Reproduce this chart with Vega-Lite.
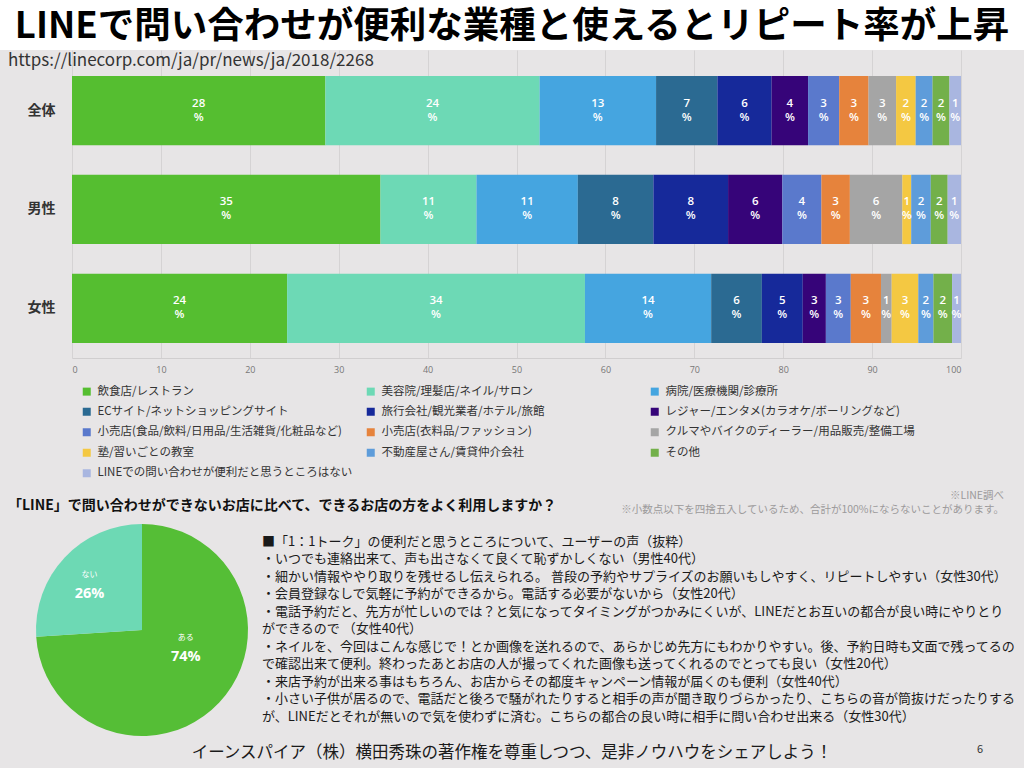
{
  "$schema": "https://vega.github.io/schema/vega-lite/v6.json",
  "padding": 0,
  "background": "#E7E5E6",
  "columns": 1,
  "spacing": 0,
  "resolve": {"scale": {"color": "independent"}, "legend": {"color": "independent"}},
  "config": {"view": {"stroke": null}, "font": "Noto Sans CJK JP", "concat": {"spacing": 0}},
  "concat": [
    {
      "width": 1024,
      "height": 50,
      "view": {"fill": "#FFFFFF"},
      "data": {"values": [{"t": "LINEで問い合わせが便利な業種と使えるとリピート率が上昇"}]},
      "mark": {"type": "text", "fontSize": 36.5, "fontWeight": "bold", "color": "#000000", "align": "center", "baseline": "middle", "dy": 2},
      "encoding": {"text": {"field": "t"}}
    },
    {
      "width": 961,
      "height": 308,
      "title": {"text": "https://linecorp.com/ja/pr/news/ja/2018/2268", "anchor": "start", "frame": "group", "orient": "top", "offset": -20, "dx": 8, "fontSize": 17, "fontWeight": "normal", "color": "#333333", "font": "Noto Sans CJK JP"},
      "data": {"values": [
        {"group": "全体", "cat": "飲食店/レストラン", "idx": 1, "value": 28.5, "pct": 28},
        {"group": "全体", "cat": "美容院/理髪店/ネイル/サロン", "idx": 2, "value": 24.1, "pct": 24},
        {"group": "全体", "cat": "病院/医療機関/診療所", "idx": 3, "value": 13.1, "pct": 13},
        {"group": "全体", "cat": "ECサイト/ネットショッピングサイト", "idx": 4, "value": 6.9, "pct": 7},
        {"group": "全体", "cat": "旅行会社/観光業者/ホテル/旅館", "idx": 5, "value": 6.1, "pct": 6},
        {"group": "全体", "cat": "レジャー/エンタメ(カラオケ/ボーリングなど)", "idx": 6, "value": 4.1, "pct": 4},
        {"group": "全体", "cat": "小売店(食品/飲料/日用品/生活雑貨/化粧品など)", "idx": 7, "value": 3.5, "pct": 3},
        {"group": "全体", "cat": "小売店(衣料品/ファッション)", "idx": 8, "value": 3.3, "pct": 3},
        {"group": "全体", "cat": "クルマやバイクのディーラー/用品販売/整備工場", "idx": 9, "value": 3.1, "pct": 3},
        {"group": "全体", "cat": "塾/習いごとの教室", "idx": 10, "value": 2.2, "pct": 2},
        {"group": "全体", "cat": "不動産屋さん/賃貸仲介会社", "idx": 11, "value": 1.9, "pct": 2},
        {"group": "全体", "cat": "その他", "idx": 12, "value": 1.9, "pct": 2},
        {"group": "全体", "cat": "LINEでの問い合わせが便利だと思うところはない", "idx": 13, "value": 1.3, "pct": 1},
        {"group": "男性", "cat": "飲食店/レストラン", "idx": 1, "value": 34.7, "pct": 35},
        {"group": "男性", "cat": "美容院/理髪店/ネイル/サロン", "idx": 2, "value": 10.8, "pct": 11},
        {"group": "男性", "cat": "病院/医療機関/診療所", "idx": 3, "value": 11.4, "pct": 11},
        {"group": "男性", "cat": "ECサイト/ネットショッピングサイト", "idx": 4, "value": 8.5, "pct": 8},
        {"group": "男性", "cat": "旅行会社/観光業者/ホテル/旅館", "idx": 5, "value": 8.4, "pct": 8},
        {"group": "男性", "cat": "レジャー/エンタメ(カラオケ/ボーリングなど)", "idx": 6, "value": 6.1, "pct": 6},
        {"group": "男性", "cat": "小売店(食品/飲料/日用品/生活雑貨/化粧品など)", "idx": 7, "value": 4.4, "pct": 4},
        {"group": "男性", "cat": "小売店(衣料品/ファッション)", "idx": 8, "value": 3.2, "pct": 3},
        {"group": "男性", "cat": "クルマやバイクのディーラー/用品販売/整備工場", "idx": 9, "value": 5.9, "pct": 6},
        {"group": "男性", "cat": "塾/習いごとの教室", "idx": 10, "value": 1.0, "pct": 1},
        {"group": "男性", "cat": "不動産屋さん/賃貸仲介会社", "idx": 11, "value": 2.2, "pct": 2},
        {"group": "男性", "cat": "その他", "idx": 12, "value": 1.9, "pct": 2},
        {"group": "男性", "cat": "LINEでの問い合わせが便利だと思うところはない", "idx": 13, "value": 1.5, "pct": 1},
        {"group": "女性", "cat": "飲食店/レストラン", "idx": 1, "value": 24.2, "pct": 24},
        {"group": "女性", "cat": "美容院/理髪店/ネイル/サロン", "idx": 2, "value": 33.5, "pct": 34},
        {"group": "女性", "cat": "病院/医療機関/診療所", "idx": 3, "value": 14.2, "pct": 14},
        {"group": "女性", "cat": "ECサイト/ネットショッピングサイト", "idx": 4, "value": 5.7, "pct": 6},
        {"group": "女性", "cat": "旅行会社/観光業者/ホテル/旅館", "idx": 5, "value": 4.6, "pct": 5},
        {"group": "女性", "cat": "レジャー/エンタメ(カラオケ/ボーリングなど)", "idx": 6, "value": 2.6, "pct": 3},
        {"group": "女性", "cat": "小売店(食品/飲料/日用品/生活雑貨/化粧品など)", "idx": 7, "value": 2.8, "pct": 3},
        {"group": "女性", "cat": "小売店(衣料品/ファッション)", "idx": 8, "value": 3.4, "pct": 3},
        {"group": "女性", "cat": "クルマやバイクのディーラー/用品販売/整備工場", "idx": 9, "value": 1.2, "pct": 1},
        {"group": "女性", "cat": "塾/習いごとの教室", "idx": 10, "value": 3.0, "pct": 3},
        {"group": "女性", "cat": "不動産屋さん/賃貸仲介会社", "idx": 11, "value": 1.7, "pct": 2},
        {"group": "女性", "cat": "その他", "idx": 12, "value": 2.1, "pct": 2},
        {"group": "女性", "cat": "LINEでの問い合わせが便利だと思うところはない", "idx": 13, "value": 1.0, "pct": 1}
      ]},
      "encoding": {
        "y": {"field": "group", "type": "nominal", "sort": ["全体", "男性", "女性"],
              "scale": {"paddingInner": 0.3, "paddingOuter": 0.207, "align": 0.634},
              "axis": {"title": null, "labelFontSize": 14, "labelFontWeight": "bold", "labelColor": "#333333", "ticks": false, "domain": false, "labelAlign": "left", "labelPadding": -27, "minExtent": 0, "maxExtent": 0}},
        "order": {"field": "idx", "type": "quantitative"}
      },
      "layer": [
        {
          "mark": {"type": "bar"},
          "encoding": {
            "x": {"field": "value", "type": "quantitative", "stack": "zero", "scale": {"domain": [0, 100], "nice": false, "range": [72, 961]},
                  "axis": {"title": null, "values": [0, 10, 20, 30, 40, 50, 60, 70, 80, 90, 100], "labelFontSize": 9, "labelColor": "#777777", "labelFont": "Open Sans", "gridColor": "#D5D3D4", "ticks": false, "domainColor": "#D0CECF", "labelPadding": 7}},
            "color": {"field": "cat", "type": "nominal",
                      "scale": {"domain": ["飲食店/レストラン", "美容院/理髪店/ネイル/サロン", "病院/医療機関/診療所", "ECサイト/ネットショッピングサイト", "旅行会社/観光業者/ホテル/旅館", "レジャー/エンタメ(カラオケ/ボーリングなど)", "小売店(食品/飲料/日用品/生活雑貨/化粧品など)", "小売店(衣料品/ファッション)", "クルマやバイクのディーラー/用品販売/整備工場", "塾/習いごとの教室", "不動産屋さん/賃貸仲介会社", "その他", "LINEでの問い合わせが便利だと思うところはない"],
                                "range": ["#55BE30", "#6DD9B5", "#45A5E0", "#2B6A92", "#16299A", "#360479", "#5A79CC", "#E6833C", "#A5A5A5", "#F4C842", "#5E9CDA", "#73B04A", "#A9B6E0"]},
                      "legend": {"orient": "none", "direction": "horizontal", "legendX": 81, "legendY": 335.5, "columns": 3, "title": null, "symbolType": "square", "symbolSize": 64, "symbolStrokeWidth": 0, "labelFontSize": 11.5, "labelColor": "#333333", "gridAlign": "all", "columnPadding": 12, "rowPadding": 7.5, "labelLimit": 300, "padding": 0, "labelOffset": 5}}
          }
        },
        {
          "mark": {"type": "text", "dy": -7, "fontSize": 11.5, "fontWeight": 600, "font": "Open Sans", "color": "#FFFFFF"},
          "encoding": {
            "x": {"field": "value", "type": "quantitative", "stack": "zero", "bandPosition": 0.5},
            "text": {"field": "pct", "type": "quantitative"}
          }
        },
        {
          "mark": {"type": "text", "dy": 7, "fontSize": 11.5, "fontWeight": 600, "font": "Open Sans", "color": "#FFFFFF"},
          "encoding": {
            "x": {"field": "value", "type": "quantitative", "stack": "zero", "bandPosition": 0.5},
            "text": {"value": "%"}
          }
        }
      ]
    },
    {
      "width": 1024,
      "height": 44,
      "data": {"values": [{"q": "「LINE」で問い合わせができないお店に比べて、できるお店の方をよく利用しますか？", "a": "※LINE調べ", "b": "※小数点以下を四捨五入しているため、合計が100%にならないことがあります。"}]},
      "layer": [
        {
          "mark": {"type": "text", "align": "left", "baseline": "middle", "dx": 8, "dy": 3.5, "fontSize": 14, "fontWeight": "bold", "color": "#111111"},
          "encoding": {"x": {"datum": 0, "type": "quantitative", "scale": {"domain": [0, 1]}, "axis": null}, "text": {"field": "q"}}
        },
        {
          "mark": {"type": "text", "align": "right", "baseline": "middle", "dx": -20, "dy": -6.5, "fontSize": 10.5, "color": "#9C9A9B"},
          "encoding": {"x": {"datum": 1, "type": "quantitative"}, "text": {"field": "a"}}
        },
        {
          "mark": {"type": "text", "align": "right", "baseline": "middle", "dx": -20, "dy": 7.5, "fontSize": 10.5, "color": "#9C9A9B"},
          "encoding": {"x": {"datum": 1, "type": "quantitative"}, "text": {"field": "b"}}
        }
      ]
    },
    {
      "spacing": 0,
      "bounds": "flush",
      "hconcat": [
        {
          "width": 284,
          "height": 212,
          "data": {"values": [{"answer": "ある", "share": 74, "label": "74%"}, {"answer": "ない", "share": 26, "label": "26%"}]},
          "encoding": {
            "theta": {"field": "share", "type": "quantitative", "stack": true},
            "order": {"field": "share", "type": "quantitative", "sort": "descending"}
          },
          "layer": [
            {"mark": {"type": "arc", "outerRadius": 106},
             "encoding": {"color": {"field": "answer", "type": "nominal", "scale": {"domain": ["ある", "ない"], "range": ["#55BE36", "#6DD9B4"]}, "legend": null}}},
            {"mark": {"type": "text", "radius": 72, "dy": -6, "fontSize": 8, "color": "#FFFFFF"},
             "encoding": {"text": {"condition": {"test": "datum.answer == 'ない'", "field": "answer"}, "value": ""}}},
            {"mark": {"type": "text", "radius": 72, "dy": 13, "fontSize": 14.5, "fontWeight": "bold", "font": "Open Sans", "color": "#FFFFFF"},
             "encoding": {"text": {"condition": {"test": "datum.answer == 'ない'", "field": "label"}, "value": ""}}},
            {"mark": {"type": "text", "radius": 60, "dy": -33, "fontSize": 8, "color": "#FFFFFF"},
             "encoding": {"text": {"condition": {"test": "datum.answer == 'ある'", "field": "answer"}, "value": ""}}},
            {"mark": {"type": "text", "radius": 60, "dy": -14, "fontSize": 14.5, "fontWeight": "bold", "font": "Open Sans", "color": "#FFFFFF"},
             "encoding": {"text": {"condition": {"test": "datum.answer == 'ある'", "field": "label"}, "value": ""}}}
          ]
        },
        {
          "width": 740,
          "height": {"step": 17.5},
          "data": {"values": [
            {"n": 1, "t": "■「1：1トーク」の便利だと思うところについて、ユーザーの声（抜粋）"},
            {"n": 2, "t": "・いつでも連絡出来て、声も出さなくて良くて恥ずかしくない（男性40代）"},
            {"n": 3, "t": "・細かい情報ややり取りを残せるし伝えられる。 普段の予約やサプライズのお願いもしやすく、リピートしやすい（女性30代）"},
            {"n": 4, "t": "・会員登録なしで気軽に予約ができるから。電話する必要がないから（女性20代）"},
            {"n": 5, "t": "・電話予約だと、先方が忙しいのでは？と気になってタイミングがつかみにくいが、LINEだとお互いの都合が良い時にやりとり"},
            {"n": 6, "t": "ができるので （女性40代）"},
            {"n": 7, "t": "・ネイルを、今回はこんな感じで！とか画像を送れるので、あらかじめ先方にもわかりやすい。後、予約日時も文面で残ってるの"},
            {"n": 8, "t": "で確認出来て便利。終わったあとお店の人が撮ってくれた画像も送ってくれるのでとっても良い（女性20代）"},
            {"n": 9, "t": "・来店予約が出来る事はもちろん、お店からその都度キャンペーン情報が届くのも便利（女性40代）"},
            {"n": 10, "t": "・小さい子供が居るので、電話だと後ろで騒がれたりすると相手の声が聞き取りづらかったり、こちらの音が筒抜けだったりする"},
            {"n": 11, "t": "が、LINEだとそれが無いので気を使わずに済む。こちらの都合の良い時に相手に問い合わせ出来る（女性30代）"}
          ]},
          "mark": {"type": "text", "align": "left", "baseline": "middle", "dx": -22, "fontSize": 13, "color": "#1A1A1A"},
          "encoding": {
            "x": {"datum": 0, "type": "quantitative", "scale": {"domain": [0, 1]}, "axis": null},
            "y": {"field": "n", "type": "ordinal", "axis": null, "scale": {"type": "point", "padding": 1}},
            "text": {"field": "t"}
          }
        }
      ]
    },
    {
      "width": 1024,
      "height": 34,
      "data": {"values": [{"f": "イーンスパイア（株）横田秀珠の著作権を尊重しつつ、是非ノウハウをシェアしよう！", "p": "6"}]},
      "layer": [
        {"mark": {"type": "text", "fontSize": 16.5, "color": "#1A1A1A", "align": "center", "baseline": "middle"},
         "encoding": {"text": {"field": "f"}}},
        {"mark": {"type": "text", "fontSize": 11, "color": "#333333", "align": "center", "baseline": "middle", "dy": -3},
         "encoding": {"x": {"datum": 0.957, "type": "quantitative", "scale": {"domain": [0, 1]}, "axis": null}, "text": {"field": "p"}}}
      ]
    }
  ]
}
